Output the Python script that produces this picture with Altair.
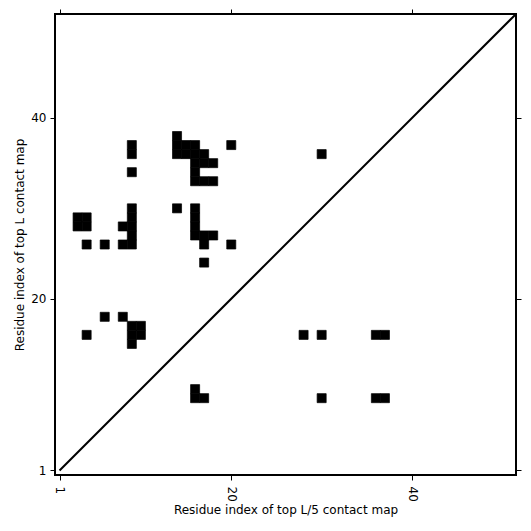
import altair as alt
import pandas as pd

# Top-L contacts (upper-left triangle): residue i (x) and residue j (y)
top_L_i = [14,
           9, 14, 15, 16, 20,
           9, 14, 15, 16, 17, 30,
           16, 17, 18,
           9, 16,
           16, 17, 18,
           9, 14, 16,
           3, 4, 9, 16,
           3, 4, 8, 9, 16,
           9, 16, 17, 18,
           4, 6, 8, 9, 17, 20,
           17,
           6, 8,
           9, 10,
           4, 9, 10,
           9]
top_L_j = [38,
           37, 37, 37, 37, 37,
           36, 36, 36, 36, 36, 36,
           35, 35, 35,
           34, 34,
           33, 33, 33,
           30, 30, 30,
           29, 29, 29, 29,
           28, 28, 28, 28, 28,
           27, 27, 27, 27,
           26, 26, 26, 26, 26, 26,
           24,
           18, 18,
           17, 17,
           16, 16, 16,
           15]

# Top-L/5 contacts (lower-right triangle)
top_L5_i = [16, 16, 17, 30, 36, 37, 28, 30, 36, 37]
top_L5_j = [10, 9, 9, 9, 9, 9, 16, 16, 16, 16]

diag = [1, 51.5]
tick_values = [1, 20, 40]
axis_domain = [0.5, 51.5]

cells = pd.DataFrame({"i": top_L_i + top_L5_i, "j": top_L_j + top_L5_j})
diag_df = pd.DataFrame({"d": diag})

FONT = "DejaVu Sans"
xs = alt.Scale(domain=axis_domain, nice=False, zero=False)
ys = alt.Scale(domain=axis_domain, nice=False, zero=False)

common = dict(values=tick_values, grid=False, domain=False, tickColor="black",
              tickSize=5, tickWidth=1, labelFont=FONT, labelFontSize=12,
              labelColor="black", titleFont=FONT, titleFontSize=12,
              titleColor="black", titleFontWeight="normal")

rects = alt.Chart(cells).transform_calculate(
    x0="datum.i - 0.5", x1="datum.i + 0.5",
    y0="datum.j - 0.5", y1="datum.j + 0.5",
).mark_rect(color="black", stroke="black", strokeWidth=0.7, opacity=1).encode(
    x=alt.X("x0:Q", scale=xs,
            axis=alt.Axis(orient="bottom", title="Residue index of top L/5 contact map",
                          labelAngle=90, labelPadding=6, titlePadding=3, **common)),
    x2="x1:Q",
    y=alt.Y("y0:Q", scale=ys,
            axis=alt.Axis(orient="left", title="Residue index of top L contact map",
                          labelAngle=0, labelPadding=4, titlePadding=4, **common)),
    y2="y1:Q",
)

line = alt.Chart(diag_df).mark_line(color="black", strokeWidth=2, clip=True).encode(
    x=alt.X("d:Q", scale=xs,
            axis=alt.Axis(orient="top", title="", labels=False, **common)),
    y=alt.Y("d:Q", scale=ys,
            axis=alt.Axis(orient="right", title="", labels=False, **common)),
)

chart = alt.layer(rects, line).resolve_axis(x="independent", y="independent").properties(
    width=461, height=461,
    autosize=alt.AutoSizeParams(type="none"),
    padding={"left": 47, "top": 6, "right": 7, "bottom": 44},
).configure_view(stroke="black", strokeWidth=2)

chart.save("out.html", embed_options={"renderer": "svg", "actions": False})
